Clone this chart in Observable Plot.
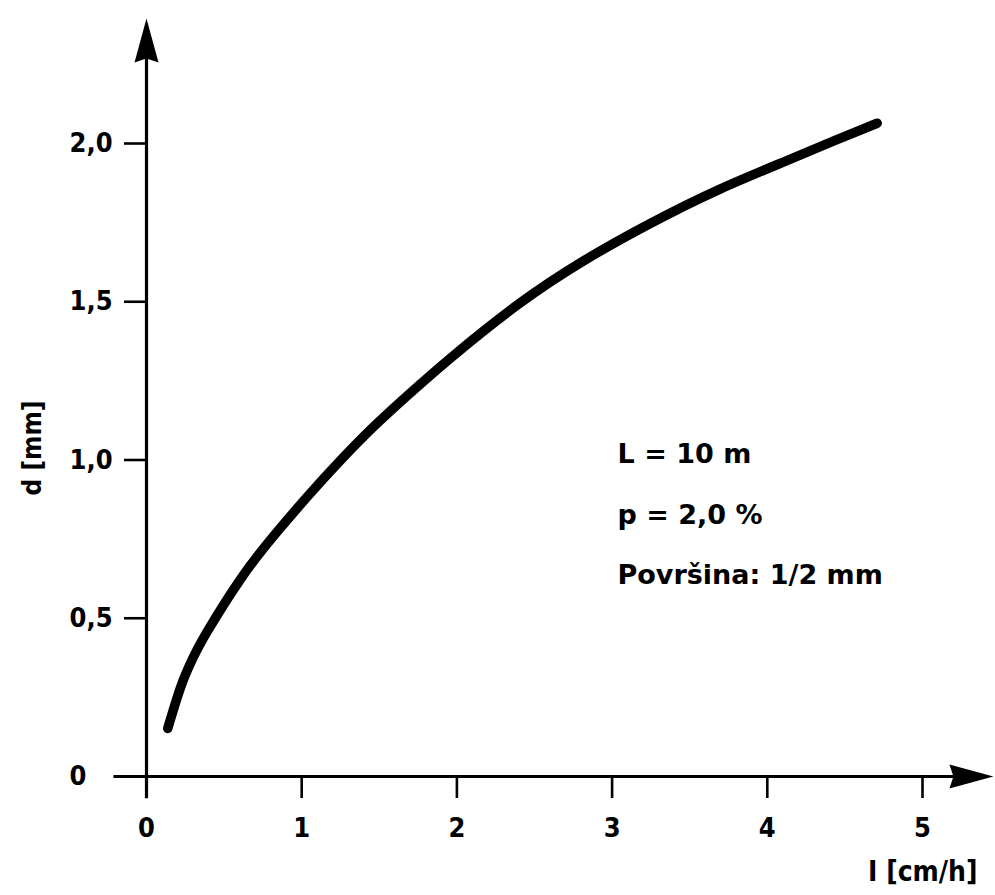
<!DOCTYPE html>
<html>
<head>
<meta charset="utf-8">
<script src="https://cdn.jsdelivr.net/npm/d3@7"></script>
<script src="https://cdn.jsdelivr.net/npm/@observablehq/plot@0.6"></script>
<style>
  html, body { margin: 0; padding: 0; background: #fff; }
  #chart { width: 995px; height: 895px; }
</style>
</head>
<body>
<div id="chart"></div>
<script>
// ---- data ----
const xTicks = [0, 1, 2, 3, 4, 5];
const xTickLabels = ["0", "1", "2", "3", "4", "5"];
const yTicks = [0, 0.5, 1, 1.5, 2];
const yTickLabels = ["0", "0,5", "1,0", "1,5", "2,0"];

// curve: intensity I [cm/h] vs d [mm]
const curveI = [0.137, 0.222, 0.30, 0.394, 0.608, 0.823, 1.038, 1.252, 1.467, 1.682, 1.961, 2.39, 2.819, 3.249, 3.678, 4.107, 4.429, 4.708];
const curveD = [0.152, 0.285, 0.375, 0.46, 0.625, 0.762, 0.885, 1.0, 1.107, 1.204, 1.323, 1.49, 1.63, 1.748, 1.852, 1.942, 2.008, 2.064];

const annotationLines = ["L = 10 m", "p = 2,0 %", "Površina: 1/2 mm"];
const annotationY = [1.017, 0.825, 0.635];
const annotationX = 3.035;

const xLabel = "I [cm/h]";
const yLabel = "d [mm]";

// axis line extents (data units), arrow tips at the far ends
const xAxisExtent = [-0.21, 5.457];
const yAxisExtent = [-0.07, 2.395];

// ---- build ----
const curve = curveI.map((x, i) => ({x, y: curveD[i]}));
const annotations = annotationLines.map((t, i) => ({t, x: annotationX, y: annotationY[i]}));

const arrowHead = {
  draw(ctx) {
    ctx.moveTo(0, 0);
    ctx.lineTo(-12, 44);
    ctx.lineTo(0, 40);
    ctx.lineTo(12, 44);
    ctx.closePath();
  }
};

const condensed = "'DejaVu Sans Condensed', 'DejaVu Sans', sans-serif";

const chart = Plot.plot({
  width: 995,
  height: 895,
  marginLeft: 146,
  marginRight: 18,
  marginTop: 18,
  marginBottom: 119,
  x: {domain: [0, 5], range: [146, 922]},
  y: {domain: [0, 2], range: [776, 143]},
  style: {fontFamily: condensed, fontWeight: "bold", color: "#000", background: "#fff"},
  marks: [
    // axis lines
    Plot.ruleY([0], {x1: xAxisExtent[0], x2: xAxisExtent[1] - 0.15, stroke: "#000", strokeWidth: 3.2}),
    Plot.ruleX([0], {y1: yAxisExtent[0], y2: yAxisExtent[1] - 0.08, stroke: "#000", strokeWidth: 3.2}),
    // arrow heads
    Plot.dot([{x: 0, y: yAxisExtent[1]}], {x: "x", y: "y", symbol: arrowHead, fill: "#000", stroke: "none"}),
    Plot.dot([{x: xAxisExtent[1], y: 0}], {x: "x", y: "y", symbol: arrowHead, rotate: 90, fill: "#000", stroke: "none"}),
    // ticks & labels
    Plot.axisX(xTicks, {
      anchor: "bottom", tickSize: 22, tickPadding: 19, strokeWidth: 2.6,
      tickFormat: (d, i) => xTickLabels[i], fontSize: 27, fontFamily: condensed, fontWeight: "bold", label: null
    }),
    Plot.axisY(yTicks, {
      anchor: "left", tickSize: 22, tickPadding: 55, strokeWidth: 2.6, textAnchor: "start",
      tickFormat: (d, i) => yTickLabels[i], fontSize: 27, fontFamily: condensed, fontWeight: "bold", label: null
    }),
    // axis titles
    Plot.text([xLabel], {frameAnchor: "bottom-right", textAnchor: "end", dy: 104, fontSize: 28, fontFamily: condensed, fontWeight: "bold"}),
    Plot.text([yLabel], {frameAnchor: "left", rotate: -90, dx: -114, dy: 98, fontSize: 26, fontFamily: condensed, fontWeight: "bold"}),
    // curve
    Plot.line(curve, {x: "x", y: "y", curve: "natural", stroke: "#000", strokeWidth: 9.5, strokeLinecap: "round"}),
    // annotation
    Plot.text(annotations, {x: "x", y: "y", text: "t", textAnchor: "start", fontSize: 27, fontFamily: "'DejaVu Sans', sans-serif", fontWeight: "bold"})
  ]
});

document.getElementById("chart").appendChild(chart);
</script>
</body>
</html>
